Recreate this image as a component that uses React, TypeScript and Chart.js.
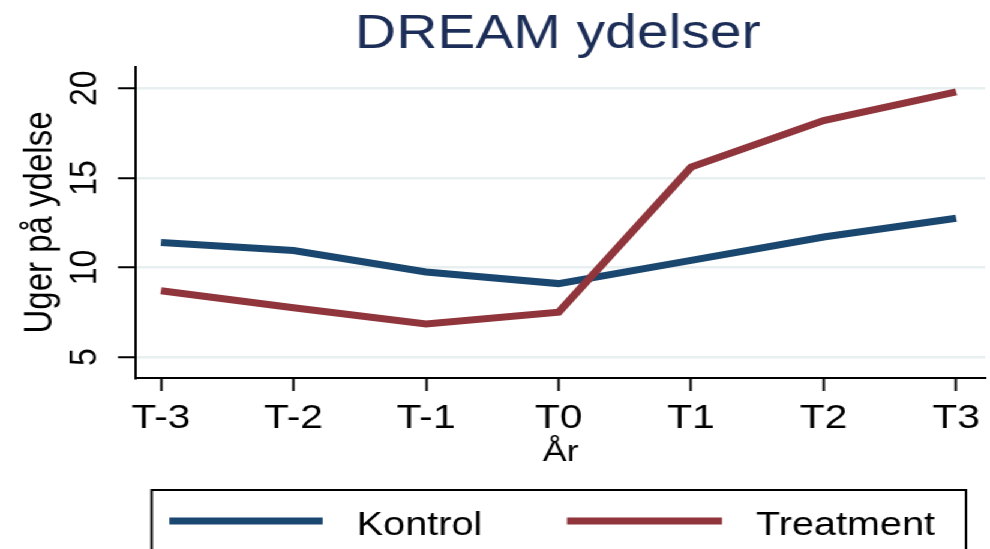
import React, { useEffect, useRef } from 'react';
import { Chart, registerables } from 'chart.js';

Chart.register(...registerables);

// ---- Data ----
const xLabels = ['T-3', 'T-2', 'T-1', 'T0', 'T1', 'T2', 'T3'];
const kontrol = [11.4, 10.95, 9.75, 9.1, 10.4, 11.7, 12.75];
const treatment = [8.7, 7.75, 6.85, 7.5, 15.6, 18.2, 19.8];
const yTicks = [5, 10, 15, 20];
const seriesLabels = ['Kontrol', 'Treatment'];
const seriesColors = ['#1a476f', '#90353b'];
const chartTitle = 'DREAM ydelser';
const yTitle = 'Uger på ydelse';
const xTitle = 'År';

// ---- Layout (drawn at 825 wide, stretched horizontally like the reference) ----
const STRETCH = 1.2;
const W = 825;
const H = 549;
const FONT = "'Liberation Sans', Arial, sans-serif";

const decorPlugin = {
  id: 'decor',
  afterDraw(chart: any) {
    const ctx = chart.ctx as CanvasRenderingContext2D;
    ctx.save();
    // Title
    ctx.fillStyle = '#1c2e57';
    ctx.font = `47.5px ${FONT}`;
    ctx.textAlign = 'center';
    ctx.textBaseline = 'alphabetic';
    ctx.fillText(chartTitle, 464.8, 48);

    // Legend box
    ctx.strokeStyle = '#000';
    ctx.lineWidth = 2;
    ctx.strokeRect(126.4, 490, 805 - 126.4, 120);

    const items = [
      { x1: 141.1, x2: 268.9, tx: 297.3 },
      { x1: 472.5, x2: 601.7, tx: 630 },
    ];
    chart.data.datasets.forEach((ds: any, i: number) => {
      const it = items[i];
      ctx.strokeStyle = ds.borderColor;
      ctx.lineWidth = 7;
      ctx.lineCap = 'butt';
      ctx.beginPath();
      ctx.moveTo(it.x1, 521);
      ctx.lineTo(it.x2, 521);
      ctx.stroke();
      ctx.fillStyle = '#000';
      ctx.font = `33px ${FONT}`;
      ctx.textAlign = 'left';
      ctx.fillText(ds.label, it.tx, 535);
    });
    ctx.restore();
  },
};

export default function App() {
  const ref = useRef<HTMLCanvasElement>(null);

  useEffect(() => {
    const canvas = ref.current;
    if (!canvas) return;
    const series = [kontrol, treatment];
    const chart = new Chart(canvas, {
      type: 'line',
      data: {
        datasets: series.map((vals, si) => ({
          label: seriesLabels[si],
          data: vals.map((y, i) => ({ x: i, y })),
          borderColor: seriesColors[si],
          backgroundColor: seriesColors[si],
          borderWidth: 7,
          pointRadius: 0,
          tension: 0,
          fill: false,
          borderJoinStyle: 'miter' as const,
          borderCapStyle: 'butt' as const,
          order: si === 1 ? 0 : 1,
        })),
      },
      options: {
        responsive: false,
        animation: false,
        devicePixelRatio: 1,
        layout: { padding: { top: 67, right: 4, left: 0, bottom: 0 } },
        plugins: {
          legend: { display: false },
          title: { display: false },
          tooltip: { enabled: false },
        },
        scales: {
          x: {
            type: 'linear',
            min: -0.1887,
            max: 6.219,
            afterBuildTicks: (s: any) => {
              s.ticks = xLabels.map((_, i) => ({ value: i }));
            },
            afterFit: (s: any) => {
              s.height = 171;
              s.paddingLeft = 0;
              s.paddingRight = 0;
            },
            ticks: {
              callback: (v: any) => xLabels[v as number] ?? '',
              font: { family: FONT, size: 34 },
              color: '#000',
              padding: 7,
              maxRotation: 0,
              minRotation: 0,
              autoSkip: false,
            },
            grid: {
              drawOnChartArea: false,
              drawTicks: true,
              tickLength: 13,
              tickColor: '#000',
              tickWidth: 2,
            },
            border: { color: '#000', width: 2 },
            title: {
              display: true,
              text: xTitle,
              font: { family: FONT, size: 30 },
              color: '#000',
              padding: { top: 0, bottom: 78.4 },
            },
          },
          y: {
            type: 'linear',
            min: 3.83,
            max: 21.19,
            afterBuildTicks: (s: any) => {
              s.ticks = yTicks.map((v) => ({ value: v }));
            },
            afterFit: (s: any) => {
              s.width = 113.3;
              s.paddingTop = 0;
              s.paddingBottom = 0;
            },
            ticks: {
              font: { family: FONT, size: 32 },
              color: '#000',
              padding: 9,
              minRotation: 90,
              maxRotation: 90,
              crossAlign: 'center',
            },
            grid: {
              color: '#e8eff1',
              lineWidth: 2.5,
              drawTicks: true,
              tickLength: 15,
              tickColor: '#000',
              tickWidth: 2,
            },
            border: { color: '#000', width: 2 },
            title: {
              display: true,
              text: yTitle,
              font: { family: FONT, size: 33 },
              color: '#000',
              padding: { top: 14, bottom: 0 },
            },
          },
        },
      } as any,
      plugins: [decorPlugin],
    });
    return () => chart.destroy();
  }, []);

  return (
    <div
      style={{
        position: 'fixed',
        left: 0,
        top: 0,
        width: W,
        height: H,
        background: '#fff',
        transform: `scaleX(${STRETCH})`,
        transformOrigin: '0 0',
      }}
    >
      <canvas ref={ref} width={W} height={H} />
    </div>
  );
}
